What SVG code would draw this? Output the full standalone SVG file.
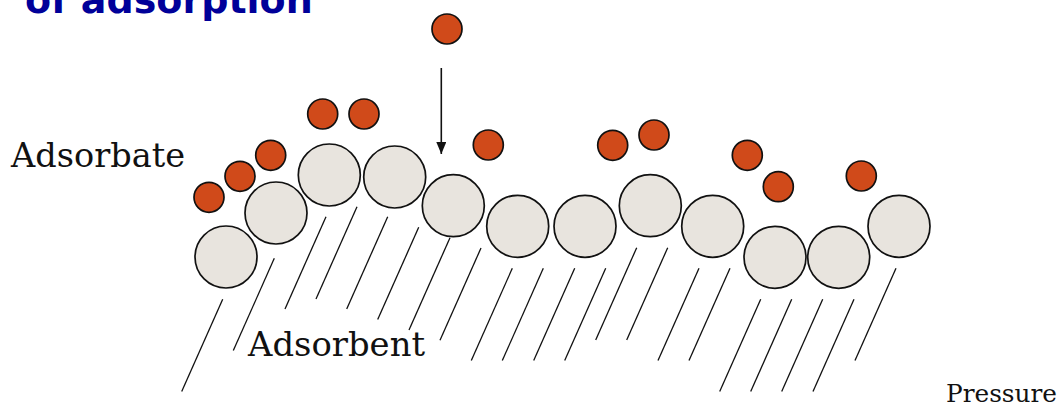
<svg xmlns="http://www.w3.org/2000/svg" width="1062" height="406" viewBox="0 0 1062 406">
  <style>
    .sorbent { fill: #e8e4de; stroke: #111; stroke-width: 1.7; }
    .sorbate { fill: #d04a1a; stroke: #111; stroke-width: 1.7; }
    .hatch { stroke: #111; stroke-width: 1.3; fill: none; }
    .label { font-family: "DejaVu Serif", "Liberation Serif", serif; fill: #111; }
    .title { font-family: "DejaVu Sans", "Liberation Sans", sans-serif; font-weight: bold; fill: #000099; }
  </style>
  <defs>
    <marker id="arrowHead" viewBox="0 0 12 10" refX="12" refY="5" markerWidth="12" markerHeight="10" markerUnits="userSpaceOnUse" orient="auto">
      <path d="M0,0 L12,5 L0,10 Z" fill="#111"/>
    </marker>
  </defs>
  <rect width="1062" height="406" fill="#fff"/>

  <!-- heading, partly cut off by the top edge -->
  <text class="title" y="13" font-size="38"><tspan x="-27">e</tspan><tspan x="25">of adsorption</tspan></text>

  <!-- hatching under the adsorbent surface -->
  <g id="hatching" class="hatch">
    <path d="M222.7,299.3 l-41,92.3"/>
    <path d="M274.3,258.3 l-41,92.3"/>
    <path d="M326,216.7 l-41,92.3"/>
    <path d="M357,206.7 l-41,92.3"/>
    <path d="M387.7,216.7 l-41,92.3"/>
    <path d="M418.7,227.3 l-41,92.3"/>
    <path d="M450,237.7 l-41,92.3"/>
    <path d="M481,248 l-41,92.3"/>
    <path d="M512.3,268.3 l-41,92.3"/>
    <path d="M543.3,268.3 l-41,92.3"/>
    <path d="M574.7,268.3 l-41,92.3"/>
    <path d="M605.7,268.3 l-41,92.3"/>
    <path d="M636.7,247.7 l-41,92.3"/>
    <path d="M667.7,247.7 l-41,92.3"/>
    <path d="M699,268.3 l-41,92.3"/>
    <path d="M730,268.3 l-41,92.3"/>
    <path d="M760.7,299.3 l-41,92.3"/>
    <path d="M791.7,299.3 l-41,92.3"/>
    <path d="M822.7,299.3 l-41,92.3"/>
    <path d="M854,299.3 l-41,92.3"/>
    <path d="M896,268.3 l-41,92.3"/>
  </g>

  <!-- adsorbent surface particles -->
  <g id="adsorbent">
    <circle class="sorbent" cx="226" cy="257" r="31"/>
    <circle class="sorbent" cx="276" cy="213" r="31"/>
    <circle class="sorbent" cx="329.3" cy="175" r="31"/>
    <circle class="sorbent" cx="394.7" cy="177" r="31"/>
    <circle class="sorbent" cx="453.3" cy="205.7" r="31"/>
    <circle class="sorbent" cx="517.7" cy="226.3" r="31"/>
    <circle class="sorbent" cx="585" cy="226.3" r="31"/>
    <circle class="sorbent" cx="650.3" cy="205.7" r="31"/>
    <circle class="sorbent" cx="712.7" cy="226.3" r="31"/>
    <circle class="sorbent" cx="775" cy="257.3" r="31"/>
    <circle class="sorbent" cx="838.7" cy="257.3" r="31"/>
    <circle class="sorbent" cx="899" cy="226.3" r="31"/>
  </g>

  <!-- adsorbate molecules -->
  <g id="adsorbate">
    <circle class="sorbate" cx="209" cy="197.3" r="15"/>
    <circle class="sorbate" cx="240" cy="176.3" r="15"/>
    <circle class="sorbate" cx="270.7" cy="155.3" r="15"/>
    <circle class="sorbate" cx="322.7" cy="114" r="15"/>
    <circle class="sorbate" cx="364" cy="114" r="15"/>
    <circle class="sorbate" cx="447" cy="29" r="15"/>
    <circle class="sorbate" cx="488.3" cy="145" r="15"/>
    <circle class="sorbate" cx="612.7" cy="145.3" r="15"/>
    <circle class="sorbate" cx="654" cy="135" r="15"/>
    <circle class="sorbate" cx="747.3" cy="155.3" r="15"/>
    <circle class="sorbate" cx="778.3" cy="186.7" r="15"/>
    <circle class="sorbate" cx="861.3" cy="176" r="15"/>
  </g>

  <!-- approach of a molecule onto the surface -->
  <g id="connectors">
    <line x1="441.3" y1="68" x2="441.3" y2="154" stroke="#111" stroke-width="1.6" marker-end="url(#arrowHead)"/>
  </g>

  <!-- labels -->
  <g id="labels">
    <text class="label" x="11" y="166.5" font-size="33" textLength="174" lengthAdjust="spacingAndGlyphs">Adsorbate</text>
    <text class="label" x="248" y="356" font-size="33" textLength="177" lengthAdjust="spacingAndGlyphs">Adsorbent</text>
    <text class="label" x="946" y="401.5" font-size="24" textLength="111" lengthAdjust="spacingAndGlyphs">Pressure</text>
  </g>
</svg>
